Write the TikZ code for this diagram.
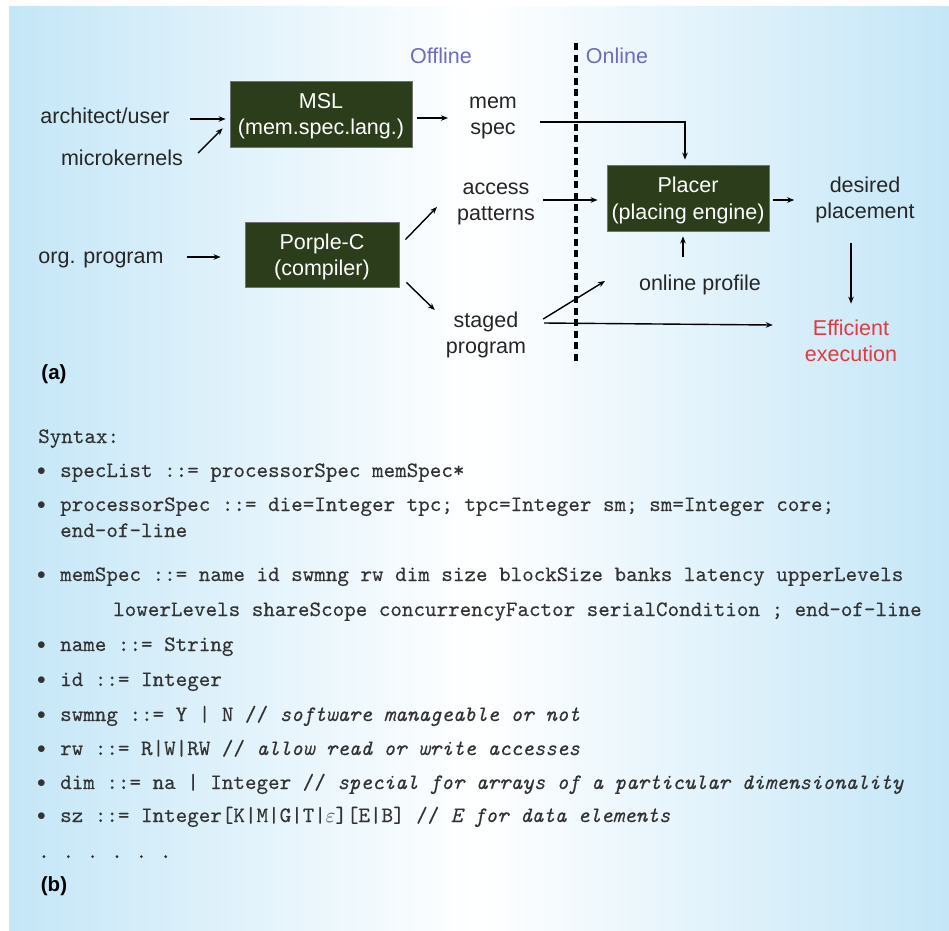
\documentclass[tikz,border=0pt]{standalone}
\usepackage{fontspec}
\setmainfont{Liberation Sans}
\newfontfamily\codefont{lmmono10-regular.otf}[ItalicFont=lmmono10-italic.otf, FakeBold=0.3]
\usetikzlibrary{positioning,arrows.meta}

\definecolor{panelblue}{RGB}{196,230,247}
\definecolor{boxgreen}{RGB}{44,61,27}
\definecolor{phaseblue}{RGB}{108,108,192}
\definecolor{execred}{RGB}{226,58,62}

\newcommand{\codebullet}{\makebox[23pt][l]{\raisebox{1.5pt}{\fontsize{18}{18}\selectfont$\bullet$}}}
\newcommand{\gapdot}{\hspace{12.8pt}.}

\tikzset{
  lbl/.style={align=center, inner sep=3pt, text=black!85, font=\fontsize{21.5}{26.5}\selectfont},
  stage/.style={draw=black!55, line width=0.8pt, fill=boxgreen, text=white, align=center, inner sep=0pt, text depth=0pt, font=\fontsize{21.5}{26.5}\selectfont},
  phase/.style={lbl, text=phaseblue},
  tag/.style={inner sep=0pt, text=black, font=\bfseries\fontsize{20.5}{24}\selectfont},
  code/.style={anchor=base west, inner sep=0pt, text=black!80, font=\codefont\fontsize{22}{26}\selectfont},
  flow/.style={->, line width=1.4pt},
  divider/.style={line width=3.2pt, dash pattern=on 7pt off 4.5pt},
}

\begin{document}
\begin{tikzpicture}[x=1pt, y=-1pt, >={Stealth[length=7pt,width=5.5pt]}]
  \useasboundingbox (0,0) rectangle (949,930);
  \fill[white] (0,0) rectangle (949,930);
  \shade[left color=panelblue, right color=panelblue, middle color=white] (9,6) rectangle (949,930);

  % (a) flow
  \node[phase] (offline) at (441,56) {Offline};
  \node[phase] (online) at (617,56) {Online};
  \draw[divider] (576,43) -- (576,363);

  \node[lbl] (arch) at (105,116) {architect/user};
  \node[lbl] (micro) at (122,158) {microkernels};
  \node[lbl] (orgprog) at (101,260) {org. program};

  \node[stage, minimum width=182pt, minimum height=66pt] (msl) at (321,114) {MSL\\(mem.spec.lang.)};
  \node[stage, minimum width=154pt, minimum height=65pt] (porple) at (322,254.5) {Porple-C\\(compiler)};
  \node[stage, minimum width=162pt, minimum height=66pt] (placer) at (688,198) {Placer\\(placing engine)};

  \node[lbl] (memspec) at (493,118) {mem\\spec};
  \node[lbl] (access) at (496,204) {access\\patterns};
  \node[lbl] (staged) at (486,335) {staged\\program};
  \node[lbl] (desired) at (865,200) {desired\\placement};
  \node[lbl] (profile) at (700,285) {online profile};
  \node[lbl, text=execred] (effic) at (851,341) {Efficient\\execution};
  \coordinate (stagedtip) at (605,281);

  \draw[flow] ([yshift=-3pt]arch.east) ++(17pt,0) -- ([xshift=-4pt,yshift=-5pt]msl.west);
  \draw[flow] ([xshift=12pt,yshift=5pt]micro.east) -- ([xshift=-7pt,yshift=19pt]msl.south west);
  \draw[flow] ([xshift=20pt,yshift=3pt]orgprog.east) -- ([xshift=-24pt,yshift=-2.5pt]porple.west);
  \draw[flow] ([xshift=5pt,yshift=-4pt]msl.east) -- ([xshift=-18pt]memspec.west);
  \draw[flow] ([xshift=20pt,yshift=-4pt]memspec.east) -| ([xshift=-3pt,yshift=5pt]placer.north);
  \draw[flow] ([xshift=6pt,yshift=-18pt]porple.north east) -- ([xshift=-17pt,yshift=-3pt]access.west);
  \draw[flow] ([xshift=7pt,yshift=5pt]porple.south east) -- ([xshift=-8pt,yshift=25pt]staged.west);
  \draw[flow] ([xshift=5pt,yshift=4pt]access.east) -- ([xshift=-9pt,yshift=-2pt]placer.west);
  \draw[flow] ([xshift=4pt,yshift=-2pt]placer.east) -- ([xshift=-18pt]desired.west);
  \draw[flow] ([xshift=-17pt,yshift=15pt]profile.north) -- ([xshift=-5pt,yshift=-5pt]placer.south);
  \draw[flow] ([xshift=-14pt,yshift=-17pt]desired.south) -- ([yshift=13pt]effic.north);
  \draw[flow] ([xshift=14pt,yshift=16pt]staged.east) -- (stagedtip);
  \draw[flow] ([xshift=15pt,yshift=12pt]staged.east) -- ([xshift=-29pt,yshift=16pt]effic.west);

  \node[tag] (tagA) at (54,374) {(a)};

  % (b) syntax
  \node[code] (syntax) at (38,443) {Syntax:};
  \node[code] (speclist) at (37,477) {\codebullet specList ::= processorSpec memSpec*};
  \node[code] (procspec) at (37,511) {\codebullet processorSpec ::= die=Integer tpc; tpc=Integer sm; sm=Integer core;};
  \node[code] (procend) at (60,537) {end-of-line};
  \node[code] (memdef) at (37,581) {\codebullet memSpec ::= name id swmng rw dim size blockSize banks latency upperLevels};
  \node[code] (memmore) at (113,616) {lowerLevels shareScope concurrencyFactor serialCondition ; end-of-line};
  \node[code] (namedef) at (37,651) {\codebullet name ::= String};
  \node[code] (iddef) at (37,686) {\codebullet id ::= Integer};
  \node[code] (swmngdef) at (37,721) {\codebullet swmng ::= Y | N // \textit{software manageable or not}};
  \node[code] (rwdef) at (37,755) {\codebullet rw ::= R|W|RW // \textit{allow read or write accesses}};
  \node[code] (dimdef) at (37,789) {\codebullet dim ::= na | Integer // \textit{special for arrays of a particular dimensionality}};
  \node[code] (szdef) at (37,822) {\codebullet sz ::= Integer[K|M|G|T|$\varepsilon$][E|B] // \textit{E for data elements}};
  \node[code] (more) at (38,858) {.\gapdot\gapdot\gapdot\gapdot\gapdot};
  \node[tag] (tagB) at (54,886) {(b)};
\end{tikzpicture}
\end{document}
